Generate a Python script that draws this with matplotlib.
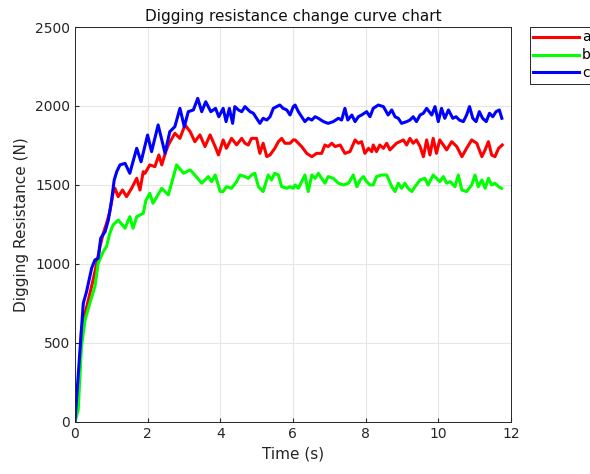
import matplotlib
matplotlib.use('Agg')
import matplotlib.pyplot as plt

# curve a (red)
t_a = [0, 0.09, 0.18, 0.28, 0.37, 0.50, 0.60, 0.69, 0.78, 0.87, 0.96, 1.05, 1.10, 1.19, 1.31, 1.42, 1.56, 1.70, 1.79, 1.88,
       1.93, 2.06, 2.20, 2.31, 2.39, 2.50, 2.57, 2.75, 2.89, 3.03, 3.17, 3.30, 3.44, 3.58, 3.72, 3.86, 3.95,
       4.08, 4.17, 4.31, 4.45, 4.59, 4.68, 4.77, 4.86, 5.00, 5.09, 5.18, 5.28, 5.37, 5.50, 5.60, 5.69, 5.78, 5.92, 6.01,
       6.06, 6.15, 6.24, 6.38, 6.52, 6.65, 6.79, 6.88, 6.97, 7.07, 7.16, 7.30, 7.43, 7.57, 7.71, 7.80, 7.89, 7.98, 8.08, 8.17,
       8.21, 8.30, 8.39, 8.49, 8.58, 8.67, 8.76, 8.85, 8.94, 9.04, 9.13, 9.22, 9.31, 9.40, 9.50, 9.59, 9.68, 9.77, 9.86, 9.95,
       10.04, 10.14, 10.23, 10.37, 10.51, 10.65, 10.78, 10.92, 11.06, 11.20, 11.29, 11.38, 11.47, 11.56, 11.66, 11.76]
f_a = [0, 160, 582, 688, 772, 899, 1004, 1110, 1194, 1257, 1331, 1447, 1480, 1426, 1468, 1426, 1479, 1542, 1468, 1584,
       1574, 1627, 1616, 1690, 1627, 1711, 1753, 1827, 1795, 1880, 1838, 1774, 1817, 1743, 1817, 1743, 1690,
       1785, 1732, 1795, 1754, 1795, 1764, 1753, 1795, 1795, 1700, 1764, 1680, 1690, 1732, 1774, 1795, 1764, 1764, 1785,
       1785, 1764, 1743, 1700, 1679, 1700, 1700, 1753, 1743, 1764, 1743, 1753, 1700, 1711, 1785, 1764, 1774, 1700, 1732, 1711,
       1753, 1711, 1753, 1732, 1764, 1722, 1743, 1764, 1774, 1785, 1753, 1795, 1764, 1785, 1743, 1679, 1785, 1690, 1795, 1700,
       1785, 1753, 1722, 1774, 1743, 1679, 1732, 1785, 1764, 1679, 1722, 1774, 1690, 1679, 1732, 1753]

# curve b (green)
t_b = [0, 0.09, 0.18, 0.28, 0.41, 0.55, 0.64, 0.78, 0.87, 0.96, 1.05, 1.19, 1.38, 1.51, 1.60, 1.70, 1.88, 1.95,
       2.06, 2.15, 2.39, 2.57, 2.80, 2.99, 3.17, 3.30, 3.49, 3.67, 3.76, 3.86, 4.00,
       4.08, 4.17, 4.31, 4.45, 4.54, 4.68, 4.77, 4.86, 4.95, 5.05, 5.18, 5.32, 5.41, 5.50, 5.60, 5.69, 5.83, 5.92, 6.01,
       6.06, 6.15, 6.24, 6.33, 6.42, 6.52, 6.61, 6.70, 6.79, 6.88, 6.97, 7.11, 7.25, 7.39, 7.53, 7.66, 7.76, 7.85, 7.94, 8.03, 8.12,
       8.21, 8.30, 8.44, 8.58, 8.72, 8.81, 8.90, 8.99, 9.08, 9.17, 9.27, 9.36, 9.50, 9.63, 9.72, 9.86, 9.95, 10.04, 10.14, 10.23,
       10.33, 10.46, 10.55, 10.65, 10.78, 10.92, 11.01, 11.10, 11.20, 11.29, 11.38, 11.47, 11.56, 11.66, 11.74]
f_b = [0, 76, 477, 646, 751, 857, 1004, 1078, 1110, 1194, 1247, 1278, 1226, 1299, 1226, 1299, 1320, 1400,
       1447, 1384, 1479, 1437, 1627, 1574, 1595, 1563, 1511, 1553, 1521, 1563, 1458,
       1458, 1489, 1479, 1521, 1563, 1553, 1542, 1563, 1574, 1489, 1458, 1563, 1532, 1574, 1563, 1489, 1479, 1489, 1479,
       1500, 1479, 1521, 1563, 1458, 1563, 1542, 1574, 1542, 1511, 1553, 1542, 1511, 1500, 1511, 1563, 1489, 1532, 1553, 1521, 1500,
       1500, 1553, 1563, 1563, 1489, 1458, 1511, 1479, 1511, 1479, 1458, 1489, 1532, 1542, 1500, 1563, 1542, 1521, 1553, 1511,
       1521, 1489, 1563, 1468, 1458, 1500, 1563, 1489, 1532, 1479, 1542, 1500, 1511, 1489, 1479]

# curve c (blue)
t_c = [0, 0.23, 0.32, 0.46, 0.55, 0.64, 0.71, 0.83, 0.92, 1.01, 1.08, 1.15, 1.24, 1.38, 1.51, 1.70, 1.82, 2.00, 2.11, 2.29,
       2.48, 2.61, 2.75, 2.89, 3.01, 3.12, 3.26, 3.38, 3.49, 3.60, 3.74, 3.87, 3.96,
       4.08, 4.16, 4.25, 4.34, 4.40, 4.50, 4.59, 4.68, 4.82, 4.91, 5.00, 5.09, 5.18, 5.28, 5.37, 5.46, 5.55, 5.64, 5.73, 5.83, 5.92, 6.01,
       6.06, 6.15, 6.24, 6.33, 6.42, 6.52, 6.61, 6.70, 6.84, 6.97, 7.11, 7.25, 7.34, 7.43, 7.51, 7.62, 7.71, 7.80, 7.89, 8.03, 8.12,
       8.21, 8.35, 8.49, 8.62, 8.72, 8.81, 8.90, 8.99, 9.13, 9.22, 9.31, 9.40, 9.50, 9.59, 9.68, 9.75, 9.82, 9.91, 10.00, 10.09, 10.18,
       10.28, 10.40, 10.49, 10.58, 10.69, 10.78, 10.86, 10.95, 11.04, 11.13, 11.22, 11.32, 11.41, 11.50, 11.59, 11.68, 11.75]
f_c = [0, 751, 825, 973, 1025, 1036, 1163, 1204, 1278, 1405, 1530, 1584, 1627, 1637, 1574, 1732, 1647, 1816, 1711, 1880,
       1701, 1837, 1869, 1985, 1869, 1964, 1975, 2048, 1964, 2027, 1964, 1985, 1932,
       1985, 1901, 1985, 1890, 1996, 1975, 1964, 1996, 1964, 1954, 1922, 1890, 1922, 1911, 1932, 1985, 1996, 2006, 1985, 1975, 1943, 1996,
       2006, 1964, 1932, 1901, 1922, 1911, 1932, 1922, 1901, 1890, 1901, 1922, 1911, 1985, 1911, 1943, 1901, 1932, 1943, 1964, 1932,
       1985, 2006, 1996, 1943, 1975, 1932, 1922, 1890, 1901, 1911, 1932, 1901, 1943, 1954, 1985, 1964, 1943, 1996, 1901, 1985, 1922,
       1975, 1922, 1932, 1911, 1901, 1943, 1996, 1922, 1901, 1964, 1922, 1901, 1954, 1932, 1964, 1975, 1922]

labels = ['a', 'b', 'c']

fig = plt.figure(figsize=(5.9, 4.74), dpi=100)
ax = fig.add_axes([0.127, 0.110, 0.739, 0.833])

ax.plot(t_a, f_a, color='#ff0000', lw=2.2, label=labels[0])
ax.plot(t_b, f_b, color='#00ff00', lw=2.2, label=labels[1])
ax.plot(t_c, f_c, color='#0000ff', lw=2.2, label=labels[2])

ax.set_xlim(0, 12)
ax.set_ylim(0, 2500)
ax.set_xticks(range(0, 13, 2))
ax.set_yticks(range(0, 2501, 500))
ax.grid(True, color='#e6e6e6', lw=0.8)
ax.set_axisbelow(True)
ax.tick_params(direction='in', colors='#262626', labelsize=10, length=3)
for s in ax.spines.values():
    s.set_color('#262626')
    s.set_linewidth(0.7)

ax.set_title('Digging resistance change curve chart', fontsize=11, color='#111111', pad=4)
ax.set_xlabel('Time (s)', fontsize=11, color='#262626')
ax.set_ylabel('Digging Resistance (N)', fontsize=11, color='#262626')

# legend sits outside the axes and runs past the right edge, as in the original
leg = ax.legend(loc='upper left', bbox_to_anchor=(530 / 590, 1 - 27 / 474), bbox_transform=fig.transFigure,
                fancybox=False, edgecolor='#262626', fontsize=10, handlelength=3.3, labelspacing=0.28,
                borderaxespad=0, framealpha=1, borderpad=0.25, handletextpad=0.2)
leg.get_frame().set_linewidth(0.7)

fig.savefig('out.png', dpi=100)
